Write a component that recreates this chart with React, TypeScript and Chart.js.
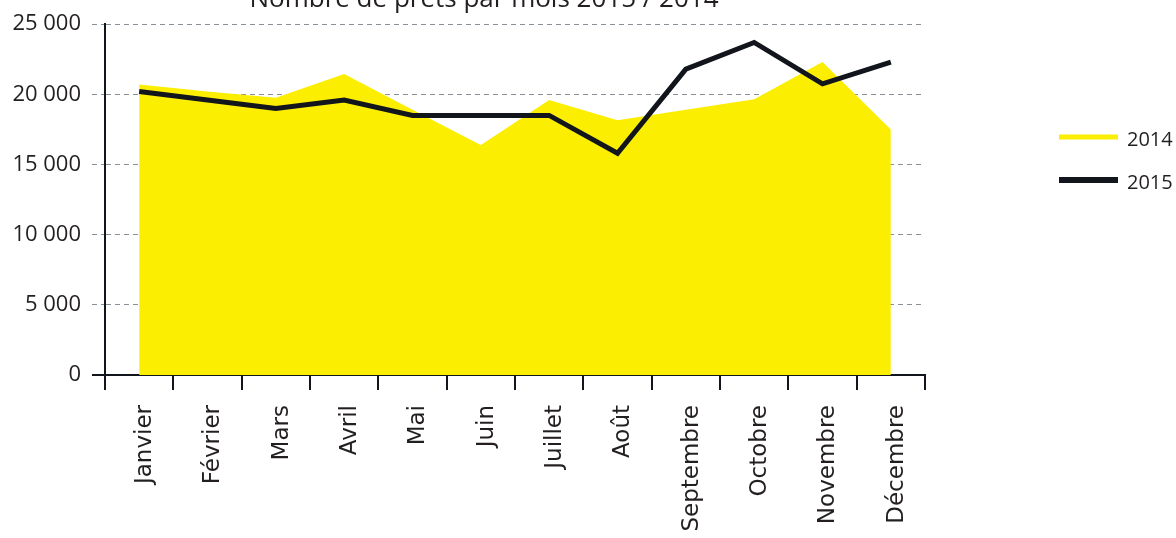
import { useEffect, useRef } from "react";
import { Chart, registerables } from "chart.js";

Chart.register(...registerables);

const chartTitle = "Nombre de prêts par mois 2015 / 2014";
const months = ["Janvier", "Février", "Mars", "Avril", "Mai", "Juin", "Juillet", "Août", "Septembre", "Octobre", "Novembre", "Décembre"];
const seriesNames = ["2014", "2015"];
const values2014 = [20700, 20200, 19750, 21450, 18900, 16400, 19600, 18150, 18900, 19650, 22300, 17500];
const values2015 = [20200, 19600, 19000, 19600, 18500, 18500, 18500, 15800, 21800, 23700, 20750, 22300];
const yTickValues = [0, 5000, 10000, 15000, 20000, 25000];

const YELLOW = "#fcee00";
const DARK = "#12161c";
const TEXT = "#231f20";
const GRID = "#8a9098";

const fmt = (v: number) => String(v).replace(/\B(?=(\d{3})+(?!\d))/g, " ");

const overlayPlugin = {
  id: "overlay",
  afterDraw(chart: any) {
    const ctx = chart.ctx as CanvasRenderingContext2D;
    ctx.save();
    ctx.fillStyle = TEXT;
    ctx.font = '26px "Open Sans"';
    ctx.textAlign = "center";
    ctx.textBaseline = "alphabetic";
    ctx.fillText(chartTitle, 484, 7);

    const legendItems = [
      { label: seriesNames[0], color: YELLOW, width: 5, y: 137 },
      { label: seriesNames[1], color: DARK, width: 6, y: 180 },
    ];
    ctx.font = '20px "Open Sans"';
    ctx.textAlign = "left";
    for (const it of legendItems) {
      ctx.strokeStyle = it.color;
      ctx.lineWidth = it.width;
      ctx.beginPath();
      ctx.moveTo(1059, it.y);
      ctx.lineTo(1118, it.y);
      ctx.stroke();
      ctx.fillStyle = TEXT;
      ctx.fillText(it.label, 1127, it.y + 9);
    }
    ctx.restore();
  },
};

export default function App() {
  const ref = useRef<HTMLCanvasElement | null>(null);
  useEffect(() => {
    if (!ref.current) return;
    const chart = new Chart(ref.current, {
      type: "line",
      data: {
        labels: months,
        datasets: [
          {
            label: seriesNames[0],
            data: values2014,
            fill: "origin",
            backgroundColor: YELLOW,
            borderWidth: 0,
            borderColor: YELLOW,
            pointRadius: 0,
            tension: 0,
            order: 2,
          },
          {
            label: seriesNames[1],
            data: values2015,
            fill: false,
            borderColor: DARK,
            borderWidth: 5,
            borderJoinStyle: "miter",
            borderCapStyle: "butt",
            pointRadius: 0,
            tension: 0,
            order: 1,
          },
        ],
      },
      options: {
        animation: false,
        responsive: false,
        maintainAspectRatio: false,
        layout: { padding: { top: 22, right: 251, left: 0, bottom: 0 } },
        plugins: {
          legend: { display: false },
          title: { display: false },
          tooltip: { enabled: false },
        },
        scales: {
          x: {
            type: "category",
            offset: true,
            afterFit: (s: any) => {
              s.height = 163;
            },
            grid: {
              display: true,
              drawOnChartArea: false,
              drawTicks: true,
              tickLength: 15,
              color: DARK,
              lineWidth: 2,
              offset: true,
            },
            border: { display: true, color: DARK, width: 2 },
            ticks: {
              autoSkip: false,
              minRotation: 90,
              maxRotation: 90,
              padding: 15,
              labelOffset: 6,
              color: TEXT,
              font: { family: '"DejaVu Sans"', size: 23 },
            },
          },
          y: {
            min: 0,
            max: 25000,
            afterFit: (s: any) => {
              s.width = 105;
            },
            afterBuildTicks: (s: any) => {
              s.ticks = yTickValues.map((v) => ({ value: v }));
            },
            grid: {
              display: true,
              drawTicks: true,
              tickLength: 13,
              color: (c: any) => (c.tick && c.tick.value === 0 ? DARK : GRID),
              lineWidth: (c: any) => (c.tick && c.tick.value === 0 ? 2 : 1),
              tickColor: (c: any) => (c.tick && c.tick.value === 0 ? DARK : GRID),
              tickWidth: (c: any) => (c.tick && c.tick.value === 0 ? 2 : 1),
              tickBorderDash: (c: any) => (c.tick && c.tick.value === 0 ? [] : [5, 4]),
            },
            border: { display: true, color: DARK, width: 2, dash: [5, 4] },
            ticks: {
              padding: 11,
              color: TEXT,
              font: { family: '"Open Sans"', size: 22 },
              callback: (v: any) => fmt(Number(v)),
            },
          },
        },
      },
      plugins: [overlayPlugin],
    });
    return () => chart.destroy();
  }, []);
  return (
    <div style={{ position: "absolute", left: 0, top: 0, width: 1176, height: 538 }}>
      <canvas ref={ref} width={1176} height={538} style={{ width: 1176, height: 538 }} />
    </div>
  );
}
